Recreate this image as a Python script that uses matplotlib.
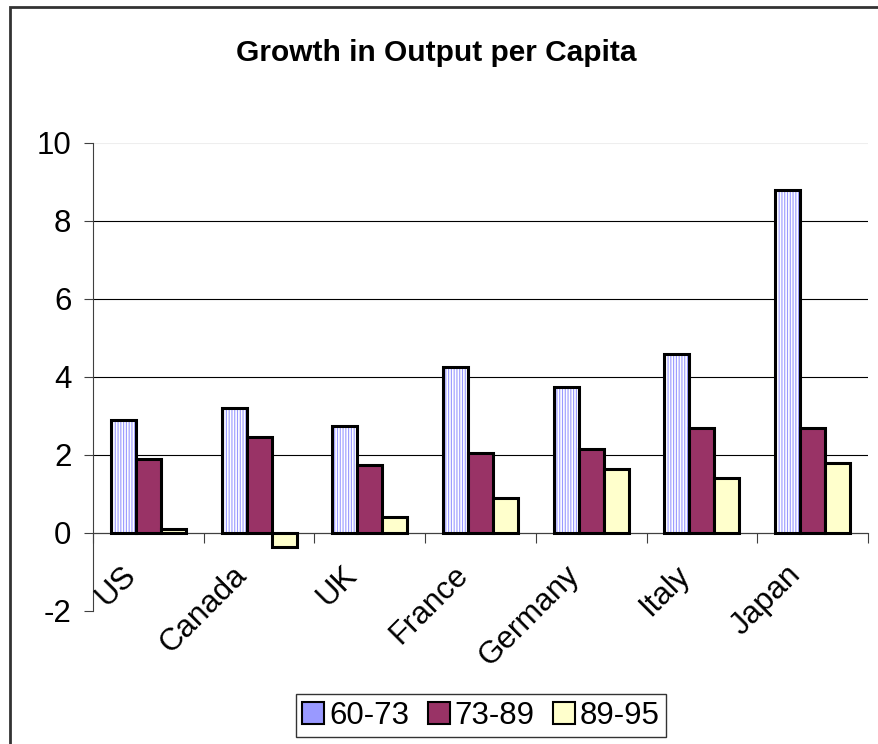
import numpy as np
import matplotlib
matplotlib.use("Agg")
import matplotlib.pyplot as plt
from matplotlib.patches import Patch
from matplotlib.lines import Line2D

plt.rcParams["font.family"] = ["Liberation Sans", "DejaVu Sans"]
plt.rcParams["hatch.linewidth"] = 0.8

countries = ["US", "Canada", "UK", "France", "Germany", "Italy", "Japan"]
periods = ["60-73", "73-89", "89-95"]
growth_60_73 = [2.9, 3.2, 2.75, 4.25, 3.75, 4.6, 8.8]
growth_73_89 = [1.9, 2.45, 1.75, 2.05, 2.15, 2.7, 2.7]
growth_89_95 = [0.1, -0.35, 0.4, 0.9, 1.65, 1.4, 1.8]
y_ticks = [-2, 0, 2, 4, 6, 8, 10]

colors = ["#9999FF", "#993366", "#FFFFCC"]

W, H = 879, 744
fig = plt.figure(figsize=(W / 100, H / 100), dpi=100)
ax = fig.add_axes([93 / W, 133 / H, 775 / W, 468 / H])

idx = np.arange(len(countries))
w = 0.226
series = [growth_60_73, growth_73_89, growth_89_95]
for k, vals in enumerate(series):
    x = idx + (k - 1) * w
    if k == 0:
        # striped fill, then the black outline on top
        ax.bar(x, vals, w, color="white", edgecolor="#9999FF",
               hatch="||||||", linewidth=0, zorder=2)
        ax.bar(x, vals, w, fill=False, edgecolor="black",
               linewidth=2.2, zorder=3)
    else:
        ax.bar(x, vals, w, color=colors[k], edgecolor="black",
               linewidth=2.2, zorder=3)

ax.set_xlim(-0.5, len(countries) - 0.5)
ax.set_ylim(y_ticks[0], y_ticks[-1])
ax.set_yticks(y_ticks)
ax.set_yticklabels([str(t) for t in y_ticks])
ax.tick_params(axis="y", direction="out", length=6.5, width=0.8,
               pad=9, labelsize=22.5, color="#404040")

# category axis crosses at zero, ticks between the groups
ax.spines["bottom"].set_position(("data", 0))
ax.set_xticks(np.arange(-0.5, len(countries), 1))
ax.set_xticklabels([])
ax.tick_params(axis="x", direction="out", length=7, width=0.8,
               color="#404040")
for s in ["top", "right"]:
    ax.spines[s].set_visible(False)
for s in ["left", "bottom"]:
    ax.spines[s].set_color("#404040")
    ax.spines[s].set_linewidth(0.8)

ax.set_axisbelow(True)
ax.yaxis.grid(True, color="black", linewidth=0.8)
grid = ax.get_ygridlines()
grid[0].set_visible(False)
grid[-1].set_color("#eeeeee")

for i, name in enumerate(countries):
    ax.annotate(name, (i, 0), xytext=(-12, -27), textcoords="offset points",
                rotation=45, ha="right", va="center",
                rotation_mode="anchor", fontsize=22.5)

fig.text(436 / W, 1 - 53 / H, "Growth in Output per Capita",
         ha="center", va="center", fontsize=21.5, fontweight="bold")

handles = [Patch(facecolor=c, edgecolor="black", linewidth=1.5)
           for c in colors]
leg = fig.legend(handles, periods, loc="center",
                 bbox_to_anchor=(481 / W, 28.5 / H), ncol=3, fontsize=22.5,
                 handlelength=0.7, handleheight=0.7, handletextpad=0.15,
                 columnspacing=0.6, borderpad=0.2, fancybox=False,
                 framealpha=1, borderaxespad=0)
leg.get_frame().set_edgecolor("#333333")
leg.get_frame().set_linewidth(1)

# chart frame: only the left and top edges fall inside the image
x0, y0 = 10 / W, 1 - 7 / H
fig.add_artist(Line2D([x0, x0, 1.0], [0.0, y0, y0], transform=fig.transFigure,
                      color="#333333", linewidth=2,
                      solid_joinstyle="miter"))

fig.savefig("out.png", dpi=100, facecolor="white")
